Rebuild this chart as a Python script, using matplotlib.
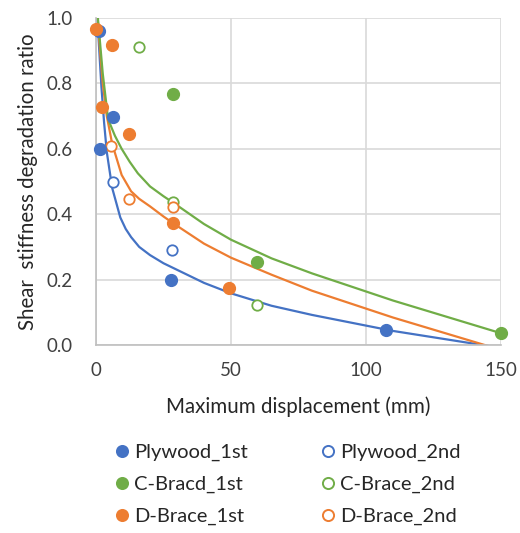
import matplotlib
matplotlib.use("Agg")
import matplotlib.pyplot as plt
from matplotlib.lines import Line2D

plt.rcParams['font.family'] = ['Lato', 'DejaVu Sans']

BLUE = '#4472C4'
ORANGE = '#ED7D31'
GREEN = '#70AD47'

# scatter data
ply1_x = [1.0, 1.4, 6.3, 27.8, 107.4]
ply1_y = [0.961, 0.598, 0.697, 0.198, 0.047]
ply2_x = [6.3, 28.0]
ply2_y = [0.499, 0.290]
cb1_x = [28.6, 59.8, 150.0]
cb1_y = [0.767, 0.254, 0.036]
cb2_x = [16.1, 28.6, 59.7]
cb2_y = [0.912, 0.436, 0.122]
db1_x = [0.0, 5.9, 2.1, 12.4, 28.6, 49.3]
db1_y = [0.965, 0.917, 0.728, 0.645, 0.374, 0.173]
db2_x = [5.7, 12.4, 28.6]
db2_y = [0.609, 0.445, 0.422]

# fitted curves
ply_fit_x = [0.5, 1, 2, 3, 4, 6, 9, 11, 13, 16, 20, 25, 29, 40, 50, 65, 80, 110, 150]
ply_fit_y = [1.0, 0.93, 0.79, 0.68, 0.59, 0.48, 0.39, 0.355, 0.33, 0.30, 0.275, 0.25, 0.234,
             0.19, 0.158, 0.12, 0.092, 0.043, -0.009]
db_fit_x = [0.6, 1.5, 2.5, 4, 6, 9.5, 13, 16, 20, 25, 29, 40, 50, 65, 80, 110, 150]
db_fit_y = [1.0, 0.90, 0.80, 0.70, 0.615, 0.52, 0.47, 0.447, 0.424, 0.393, 0.370, 0.31,
            0.267, 0.215, 0.166, 0.084, -0.015]
cb_fit_x = [0.7, 2.5, 4.5, 7, 9.5, 12.5, 15.5, 20, 25, 29, 40, 50, 65, 80, 110, 150]
cb_fit_y = [1.0, 0.83, 0.69, 0.64, 0.60, 0.56, 0.525, 0.485, 0.455, 0.433, 0.37, 0.322,
            0.265, 0.219, 0.136, 0.036]

x_ticks = [0, 50, 100, 150]
y_ticks = [0.0, 0.2, 0.4, 0.6, 0.8, 1.0]

fig = plt.figure(figsize=(5.2, 5.33), dpi=100)
ax = fig.add_axes([96/520, 1-345/533, 405/520, 327/533])

lw = 1.6
ax.plot(ply_fit_x, ply_fit_y, color=BLUE, lw=lw, zorder=2)
ax.plot(db_fit_x, db_fit_y, color=ORANGE, lw=lw, zorder=2)
ax.plot(cb_fit_x, cb_fit_y, color=GREEN, lw=lw, zorder=2)

ms = 8.5
def filled(x, y, c):
    return ax.plot(x, y, 'o', ms=ms, color=c, mec=c, ls='none', clip_on=False, zorder=4)[0]
def hollow(x, y, c):
    return ax.plot(x, y, 'o', ms=ms - 1, mfc='white', mec=c, mew=1.3, ls='none', clip_on=False, zorder=3)[0]

hollow(ply2_x, ply2_y, BLUE)
hollow(cb2_x, cb2_y, GREEN)
hollow(db2_x, db2_y, ORANGE)
filled(ply1_x, ply1_y, BLUE)
filled(cb1_x, cb1_y, GREEN)
filled(db1_x, db1_y, ORANGE)

ax.set_xlim(0, 150)
ax.set_ylim(0, 1.0)
ax.set_xticks(x_ticks)
ax.set_yticks(y_ticks)
ax.set_yticklabels([f"{v:.1f}" for v in y_ticks])
ax.grid(True, color='#D9D9D9', lw=1.2)
ax.set_axisbelow(True)
for s in ['top', 'right']:
    ax.spines[s].set_visible(False)
for s in ['left', 'bottom']:
    ax.spines[s].set_color('#BFBFBF')
    ax.spines[s].set_linewidth(1.2)
ax.tick_params(length=0, labelsize=13.5, colors='#404040')
ax.tick_params(axis='y', pad=17)
ax.tick_params(axis='x', pad=12)

ax.set_xlabel('Maximum displacement (mm)', fontsize=14.8, color='#262626', labelpad=13)
ax.set_ylabel('Shear  stiffness degradation ratio', fontsize=14.8, color='#262626', labelpad=6)

def lh(c, fill):
    return Line2D([], [], marker='o', ls='none', ms=8,
                  mfc=c if fill else 'white', mec=c, mew=1.4)

handles = [lh(BLUE, True), lh(GREEN, True), lh(ORANGE, True),
           lh(BLUE, False), lh(GREEN, False), lh(ORANGE, False)]
labels = ['Plywood_1st', 'C-Bracd_1st', 'D-Brace_1st',
          'Plywood_2nd', 'C-Brace_2nd', 'D-Brace_2nd']
fig.legend(handles, labels, ncol=2, loc='upper left',
           bbox_to_anchor=(94/520, 1-426/533), frameon=False,
           fontsize=14.5, handletextpad=0.1, columnspacing=3.45,
           labelspacing=0.72, handlelength=1.0, labelcolor='#262626')

fig.savefig('out.png', dpi=100)
